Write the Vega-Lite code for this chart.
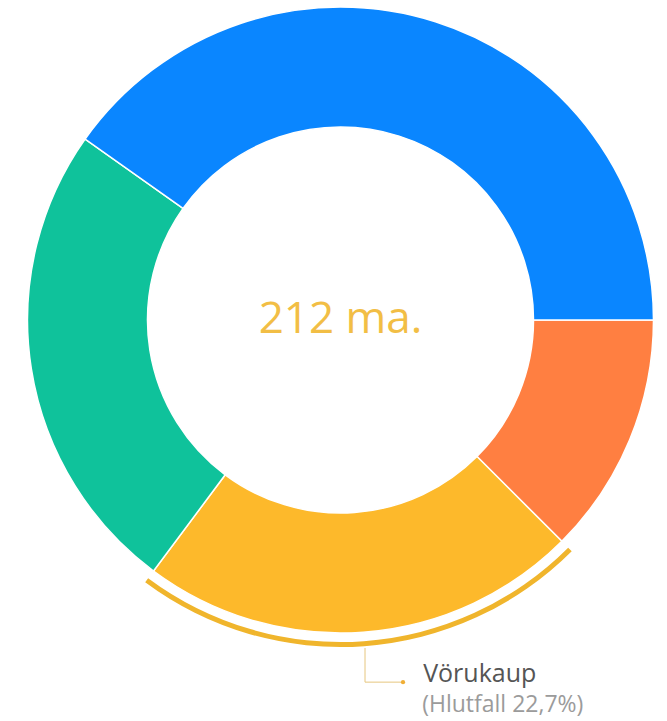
{
  "$schema": "https://vega.github.io/schema/vega-lite/v6.json",
  "width": 653,
  "height": 640,
  "autosize": {"type": "none"},
  "padding": {"left": 14, "top": 0, "right": 0, "bottom": 81},
  "background": "white",
  "config": {"view": {"stroke": null}, "font": "Open Sans"},
  "datasets": {
    "slices": [
      {"flokkur": "Afskriftir", "upphaed": 26.5, "rod": 1},
      {"flokkur": "Vörukaup", "upphaed": 48.1, "rod": 2},
      {"flokkur": "Annar rekstrarkostnaður", "upphaed": 52.2, "rod": 3},
      {"flokkur": "Laun og launatengd gjöld", "upphaed": 85.2, "rod": 4}
    ],
    "leader": [
      {"x": 7.83, "y": -104.8, "step": 1},
      {"x": 7.83, "y": -115.7, "step": 2},
      {"x": 19.97, "y": -115.7, "step": 3}
    ],
    "dot": [{"x": 19.97, "y": -115.7}],
    "center": [{"x": 0, "y": 0, "texti": "212 ma."}],
    "label": [{"x": 26.4, "y": -115.6, "texti": "Vörukaup"}],
    "sublabel": [{"x": 26.1, "y": -125.4, "texti": "(Hlutfall 22,7%)"}]
  },
  "layer": [
    {
      "data": {"name": "slices"},
      "mark": {"type": "arc", "innerRadius": 193, "outerRadius": 313, "stroke": "white", "strokeWidth": 1.5},
      "encoding": {
        "theta": {"field": "upphaed", "type": "quantitative", "stack": true, "scale": {"range": [1.5708, 7.854]}},
        "order": {"field": "rod", "type": "quantitative", "sort": "ascending"},
        "color": {
          "field": "flokkur",
          "type": "nominal",
          "scale": {
            "domain": ["Afskriftir", "Vörukaup", "Annar rekstrarkostnaður", "Laun og launatengd gjöld"],
            "range": ["#FF7F41", "#FDB92B", "#0FC29B", "#0A86FF"]
          },
          "legend": null
        }
      }
    },
    {
      "data": {"name": "slices"},
      "mark": {"type": "arc", "innerRadius": 322, "outerRadius": 327, "strokeWidth": 0},
      "encoding": {
        "theta": {"field": "upphaed", "type": "quantitative", "stack": true},
        "order": {"field": "rod", "type": "quantitative", "sort": "ascending"},
        "color": {"value": "#F0B52C"},
        "opacity": {"condition": {"test": "datum.flokkur === 'Vörukaup'", "value": 1}, "value": 0}
      }
    },
    {
      "data": {"name": "leader"},
      "mark": {"type": "line", "color": "#E6C67F", "strokeWidth": 1},
      "encoding": {
        "x": {"field": "x", "type": "quantitative", "scale": {"domain": [-104.31, 104.31], "nice": false, "zero": false}, "axis": null},
        "y": {"field": "y", "type": "quantitative", "scale": {"domain": [-102.24, 102.24], "nice": false, "zero": false}, "axis": null},
        "order": {"field": "step", "type": "quantitative"}
      }
    },
    {
      "data": {"name": "dot"},
      "mark": {"type": "point", "filled": true, "color": "#F0AE35", "size": 18, "opacity": 1},
      "encoding": {
        "x": {"field": "x", "type": "quantitative"},
        "y": {"field": "y", "type": "quantitative"}
      }
    },
    {
      "data": {"name": "center"},
      "mark": {"type": "text", "fontSize": 44, "color": "#F2BE45", "align": "center", "baseline": "middle"},
      "encoding": {
        "x": {"field": "x", "type": "quantitative"},
        "y": {"field": "y", "type": "quantitative"},
        "text": {"field": "texti"}
      }
    },
    {
      "data": {"name": "label"},
      "mark": {"type": "text", "fontSize": 25, "color": "#555555", "align": "left", "baseline": "alphabetic"},
      "encoding": {
        "x": {"field": "x", "type": "quantitative"},
        "y": {"field": "y", "type": "quantitative"},
        "text": {"field": "texti"}
      }
    },
    {
      "data": {"name": "sublabel"},
      "mark": {"type": "text", "fontSize": 23, "color": "#9B9B9B", "align": "left", "baseline": "alphabetic"},
      "encoding": {
        "x": {"field": "x", "type": "quantitative"},
        "y": {"field": "y", "type": "quantitative"},
        "text": {"field": "texti"}
      }
    }
  ]
}
